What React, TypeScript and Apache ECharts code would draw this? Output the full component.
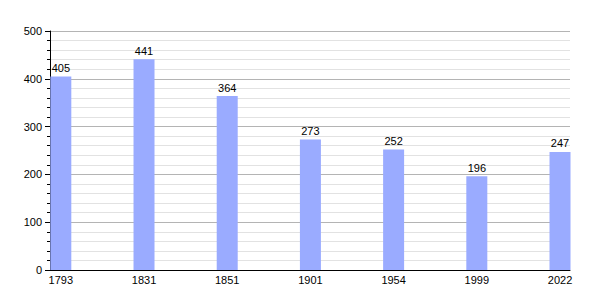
import React, { useEffect, useRef } from "react";
import * as echarts from "echarts";

const years = ["1793", "1831", "1851", "1901", "1954", "1999", "2022"];
const population = [405, 441, 364, 273, 252, 196, 247];
const yTicks = [0, 100, 200, 300, 400, 500];

export default function App() {
  const ref = useRef<HTMLDivElement>(null);
  useEffect(() => {
    if (!ref.current) return;
    const chart = echarts.init(ref.current, null, { renderer: "svg" });
    const font = "Liberation Sans, Arial, sans-serif";
    chart.setOption({
      animation: false,
      grid: { left: 50, right: 30, top: 31, bottom: 30, containLabel: false },
      xAxis: {
        type: "value",
        min: -0.13,
        max: 6.12,
        splitLine: { show: false },
        axisLine: { show: true, onZero: false, lineStyle: { color: "#000", width: 1 } },
        axisTick: { show: false },
        axisLabel: {
          customValues: years.map((_, i) => i),
          formatter: (v: number) => years[Math.round(v)] ?? "",
          color: "#000",
          fontSize: 11,
          fontFamily: font,
          margin: 4,
        },
      },
      yAxis: {
        type: "value",
        min: 0,
        max: 500,
        interval: 100,
        axisLine: { show: true, onZero: false, lineStyle: { color: "#000", width: 1 } },
        axisTick: { show: true, inside: false, length: 5, lineStyle: { color: "#000" } },
        minorTick: { show: true, splitNumber: 5, length: 3, lineStyle: { color: "#000" } },
        splitLine: { show: true, lineStyle: { color: "#b4b4b4", width: 1 } },
        minorSplitLine: { show: true, lineStyle: { color: "#e2e2e2", width: 1 } },
        axisLabel: {
          color: "#000",
          fontSize: 11,
          fontFamily: font,
          margin: 8,
        },
      },
      series: [
        {
          type: "bar",
          data: population.map((v, i) => [i, v]),
          barWidth: 21,
          itemStyle: { color: "#9aabff" },
          label: {
            show: true,
            position: "top",
            distance: 3,
            color: "#000",
            fontSize: 11,
            fontFamily: font,
            formatter: (p: any) => String(p.value[1]),
          },
        },
      ],
    });
    return () => chart.dispose();
  }, []);
  return (
    <div
      ref={ref}
      style={{ position: "fixed", left: 0, top: 0, width: 600, height: 300, background: "#fff" }}
    />
  );
}
